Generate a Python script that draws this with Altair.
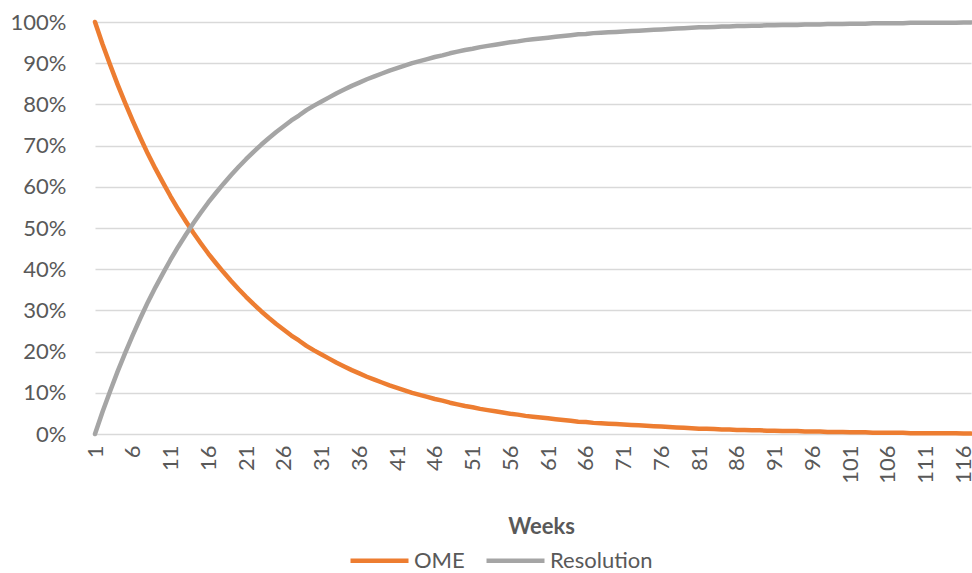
import altair as alt
import pandas as pd

# Weekly share of children still with otitis media with effusion (OME)
# and the complementary share that has resolved, in percent.
weeks = list(range(1, 118))

ome = [
    100.0, 94.6, 89.6, 84.8, 80.3, 76.0, 71.9, 68.0, 64.4, 61.0,
    57.7, 54.6, 51.7, 48.9, 46.3, 43.8, 41.5, 39.3, 37.2, 35.2,
    33.3, 31.5, 29.8, 28.2, 26.7, 25.3, 23.9, 22.7, 21.4, 20.3,
    19.3, 18.3, 17.3, 16.4, 15.5, 14.7, 13.9, 13.2, 12.5, 11.8,
    11.2, 10.6, 10.0, 9.5, 9.0, 8.5, 8.1, 7.6, 7.2, 6.8,
    6.5, 6.1, 5.8, 5.5, 5.2, 4.9, 4.7, 4.4, 4.2, 4.0,
    3.8, 3.6, 3.4, 3.2, 3.0, 2.9, 2.7, 2.6, 2.5, 2.4,
    2.3, 2.2, 2.1, 2.0, 1.9, 1.8, 1.7, 1.6, 1.5, 1.4,
    1.3, 1.3, 1.2, 1.1, 1.1, 1.0, 1.0, 0.9, 0.9, 0.8,
    0.8, 0.7, 0.7, 0.7, 0.6, 0.6, 0.6, 0.5, 0.5, 0.5,
    0.4, 0.4, 0.4, 0.3, 0.3, 0.3, 0.3, 0.3, 0.2, 0.2,
    0.2, 0.2, 0.2, 0.2, 0.2, 0.1, 0.1,
]

resolution = [
    0.0, 5.4, 10.4, 15.2, 19.7, 24.0, 28.1, 32.0, 35.6, 39.0,
    42.3, 45.4, 48.3, 51.1, 53.7, 56.2, 58.5, 60.7, 62.8, 64.8,
    66.7, 68.5, 70.2, 71.8, 73.3, 74.7, 76.1, 77.3, 78.6, 79.7,
    80.7, 81.7, 82.7, 83.6, 84.5, 85.3, 86.1, 86.8, 87.5, 88.2,
    88.8, 89.4, 90.0, 90.5, 91.0, 91.5, 91.9, 92.4, 92.8, 93.2,
    93.5, 93.9, 94.2, 94.5, 94.8, 95.1, 95.3, 95.6, 95.8, 96.0,
    96.2, 96.4, 96.6, 96.8, 97.0, 97.1, 97.3, 97.4, 97.5, 97.6,
    97.7, 97.8, 97.9, 98.0, 98.1, 98.2, 98.3, 98.4, 98.5, 98.6,
    98.7, 98.7, 98.8, 98.9, 98.9, 99.0, 99.0, 99.1, 99.1, 99.2,
    99.2, 99.3, 99.3, 99.3, 99.4, 99.4, 99.4, 99.5, 99.5, 99.5,
    99.6, 99.6, 99.6, 99.7, 99.7, 99.7, 99.7, 99.7, 99.8, 99.8,
    99.8, 99.8, 99.8, 99.8, 99.8, 99.9, 99.9,
]

series_names = ["OME", "Resolution"]
series_colors = ["#ED7D31", "#A5A5A5"]
week_ticks = list(range(1, 117, 5))
pct_ticks = list(range(0, 101, 10))

df = pd.DataFrame(
    {
        "week": weeks * 2,
        "value": ome + resolution,
        "series": [series_names[0]] * len(weeks) + [series_names[1]] * len(weeks),
    }
)

FONT = "Lato"
TEXT = "#595959"
FS = 22

chart = (
    alt.Chart(df)
    .mark_line(strokeWidth=4.5, strokeCap="round", strokeJoin="round")
    .encode(
        x=alt.X(
            "week:Q",
            scale=alt.Scale(domain=[1, 117], nice=False, zero=False),
            axis=alt.Axis(
                title="Weeks",
                values=week_ticks,
                labelAngle=270,
                labelFontSize=FS,
                labelColor=TEXT,
                labelFont=FONT,
                labelPadding=11,
                labelOverlap=False,
                labelFlush=False,
                grid=False,
                domain=False,
                ticks=False,
                titleFont=FONT,
                titleFontSize=FS,
                titleFontWeight="bold",
                titleColor=TEXT,
                titleX=446,
                titleY=99,
                titleAlign="center",
                titleBaseline="alphabetic",
            ),
        ),
        y=alt.Y(
            "value:Q",
            scale=alt.Scale(domain=[0, 100], nice=False),
            axis=alt.Axis(
                title=None,
                values=pct_ticks,
                labelExpr="datum.value + '%'",
                labelFontSize=FS,
                labelColor=TEXT,
                labelFont=FONT,
                labelPadding=29,
                grid=True,
                gridColor="#D9D9D9",
                gridWidth=1.3,
                domain=False,
                ticks=False,
            ),
        ),
        color=alt.Color(
            "series:N",
            scale=alt.Scale(domain=series_names, range=series_colors),
            legend=alt.Legend(
                title=None,
                orient="none",
                direction="horizontal",
                legendX=253,
                legendY=507,
                symbolType="stroke",
                symbolSize=3364,
                symbolStrokeWidth=4.5,
                labelFont=FONT,
                labelFontSize=FS,
                labelColor=TEXT,
                labelOffset=3,
                columnPadding=12,
            ),
        ),
    )
    .properties(
        width=876,
        height=412,
        padding={"left": 95, "top": 22, "right": 1, "bottom": 139},
        autosize=alt.AutoSizeParams(type="none"),
        background="white",
    )
    .configure_view(strokeWidth=0)
)

chart.save("out.html", embed_options={"renderer": "svg", "actions": False})
